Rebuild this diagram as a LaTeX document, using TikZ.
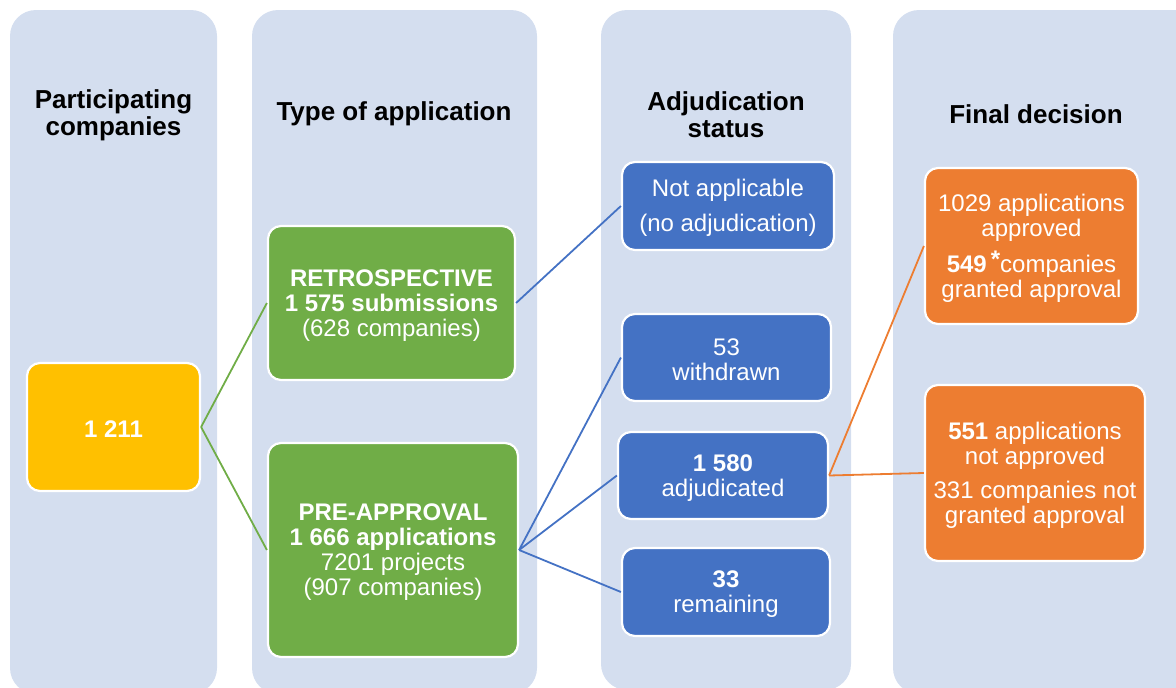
\documentclass[tikz,border=0pt]{standalone}
\usepackage{fontspec}
\setmainfont{Liberation Sans}
\definecolor{colbg}{RGB}{212,222,239}
\definecolor{cyellow}{RGB}{255,192,0}
\definecolor{cgreen}{RGB}{112,173,71}
\definecolor{cblue}{RGB}{68,114,196}
\definecolor{corange}{RGB}{237,125,49}
\newcommand{\fl}{\rule{0pt}{21.5pt}}
\tikzset{
  colbox/.style={fill=colbg, rounded corners=26pt},
  title/.style={font=\fontsize{26}{27}\selectfont\bfseries, align=center, text=black, inner sep=0pt},
  box/.style={draw=white, line width=2.2pt, rounded corners=13pt, align=center, text=white, inner sep=0pt,
    font=\fontsize{24}{25}\selectfont},
  ybox/.style={box, fill=cyellow},
  gbox/.style={box, fill=cgreen},
  bbox/.style={box, fill=cblue},
  obox/.style={box, fill=corange},
  gline/.style={draw=cgreen, line width=1.8pt},
  bline/.style={draw=cblue, line width=1.8pt},
  oline/.style={draw=corange, line width=1.8pt},
}
\begin{document}
\begin{tikzpicture}[x=1pt,y=-1pt]
\useasboundingbox (0,0) rectangle (1176,688);
\clip (0,0) rectangle (1176,688);
% columns
\fill[colbox] (10,10) rectangle (217,694);
\fill[colbox] (252,10) rectangle (537,694);
\fill[colbox] (601,10) rectangle (851,690);
\fill[colbox] (893,10) rectangle (1205,694);
% titles
\node[title] (t1) at (113.5,115) {Participating\\companies};
\node[title] (t2) at (394,114) {Type of application};
\node[title] (t3) at (726,115) {Adjudication\\status};
\node[title] (t4) at (1036,114) {Final decision};
% boxes
\node[ybox, minimum width=173pt, minimum height=128pt, font=\fontsize{24}{25}\selectfont\bfseries] (n1211) at (113.5,427) {\fl 1 211};
\node[gbox, minimum width=247pt, minimum height=154pt] (retro) at (391.5,303)
  {\fl\textbf{RETROSPECTIVE}\\\textbf{1 575 submissions}\\(628 companies)};
\node[gbox, minimum width=250pt, minimum height=214pt] (pre) at (393,550)
  {\fl\textbf{PRE-APPROVAL}\\\textbf{1 666 applications}\\7201 projects\\(907 companies)};
\node[bbox, minimum width=212pt, minimum height=88pt] (na) at (728,206)
  {\fl Not applicable\\[10pt](no adjudication)};
\node[bbox, minimum width=209pt, minimum height=87pt] (wd) at (726.5,357.5)
  {\fl 53\\withdrawn};
\node[bbox, minimum width=210pt, minimum height=87pt] (adj) at (723,475.5)
  {\fl\textbf{1 580}\\adjudicated};
\node[bbox, minimum width=208pt, minimum height=88pt] (rem) at (726,592)
  {\fl\textbf{33}\\remaining};
\node[obox, minimum width=213pt, minimum height=156pt] (ap) at (1031.5,246)
  {\fl 1029 applications\\approved\\[9pt]\textbf{549}\,\raisebox{5pt}{\textbf{*}}companies\\granted approval};
\node[obox, minimum width=220pt, minimum height=176pt] (nap) at (1035,473)
  {\fl\textbf{551} applications\\not approved\\[9pt]331 companies not\\granted approval};
% connectors
\draw[gline] (n1211.east) -- (retro.west);
\draw[gline] (n1211.east) -- (pre.west);
\draw[bline] (retro.east) -- (na.west);
\draw[bline] (pre.east) -- (wd.west);
\draw[bline] (pre.east) -- (adj.west);
\draw[bline] (pre.east) -- (rem.west);
\draw[oline] (adj.east) -- (ap.west);
\draw[oline] (adj.east) -- (nap.west);
\end{tikzpicture}
\end{document}
